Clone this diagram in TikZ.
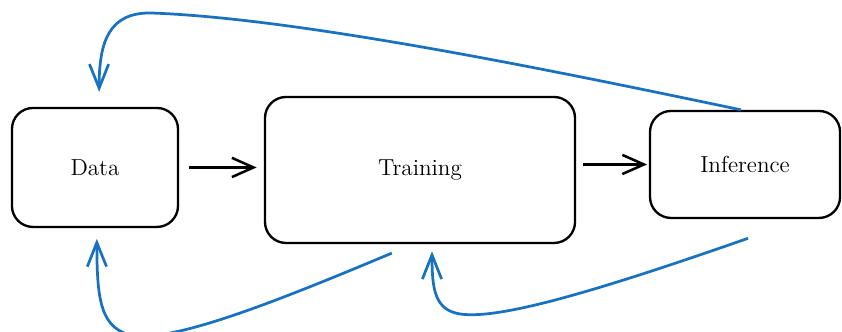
\documentclass[tikz,border=0pt]{standalone}
\usepackage{tikz}
\usetikzlibrary{arrows.meta}
\definecolor{loopblue}{RGB}{25,113,194}

\begin{document}
\begin{tikzpicture}[
    stage/.style={draw, line width=1.1pt, rounded corners=0.35cm, inner sep=0pt,
      font=\fontsize{11}{13}\selectfont},
    flow/.style={-{Straight Barb[length=0.36cm,width=0.32cm]}, line width=1.2pt},
    feedback/.style={-{Straight Barb[length=0.4cm,width=0.32cm]}, loopblue, line width=1.3pt}
  ]
    \useasboundingbox (0,0) rectangle (14.033,5.533);
    \clip (0,0) rectangle (14.033,5.533);

    % Pipeline stages
    \node[stage, minimum width=2.767cm, minimum height=1.983cm] (data) at (1.583,2.742) {Data};
    \node[stage, minimum width=5.167cm, minimum height=2.433cm] (training) at (7.0,2.7) {Training};
    \node[stage, minimum width=3.167cm, minimum height=1.783cm] (inference) at (12.417,2.792) {Inference};

    % Forward arrows
    \draw[flow, shorten <=0.17cm, shorten >=0.12cm] (data.east) -- (data.east -| training.west);
    \draw[flow, shorten <=0.12cm, shorten >=0.03cm] (inference.west -| training.east) -- (inference.west);

    % Feedback loops
    \draw[feedback, shorten >=0.25cm] ([xshift=-0.07cm]inference.north)
      .. controls (9.333,4.333) and (5.0,5.233) .. (2.5,5.317)
      .. controls (1.833,5.317) and (1.65,4.867) .. ([xshift=0.07cm]data.north);
    \draw[feedback, shorten >=0.18cm] ([xshift=-0.47cm,yshift=-0.15cm]training.south)
      .. controls (4.667,0.533) and (3.0,-0.133) .. (2.25,-0.067)
      .. controls (1.667,0.033) and (1.617,0.533) .. ([xshift=0.03cm]data.south);
    \draw[feedback, shorten >=0.12cm] ([xshift=0.05cm,yshift=-0.32cm]inference.south)
      .. controls (10.0,0.7) and (8.333,0.2) .. (7.667,0.3)
      .. controls (7.25,0.367) and (7.2,0.7) .. ([xshift=0.2cm]training.south);
  \end{tikzpicture}
\end{document}
